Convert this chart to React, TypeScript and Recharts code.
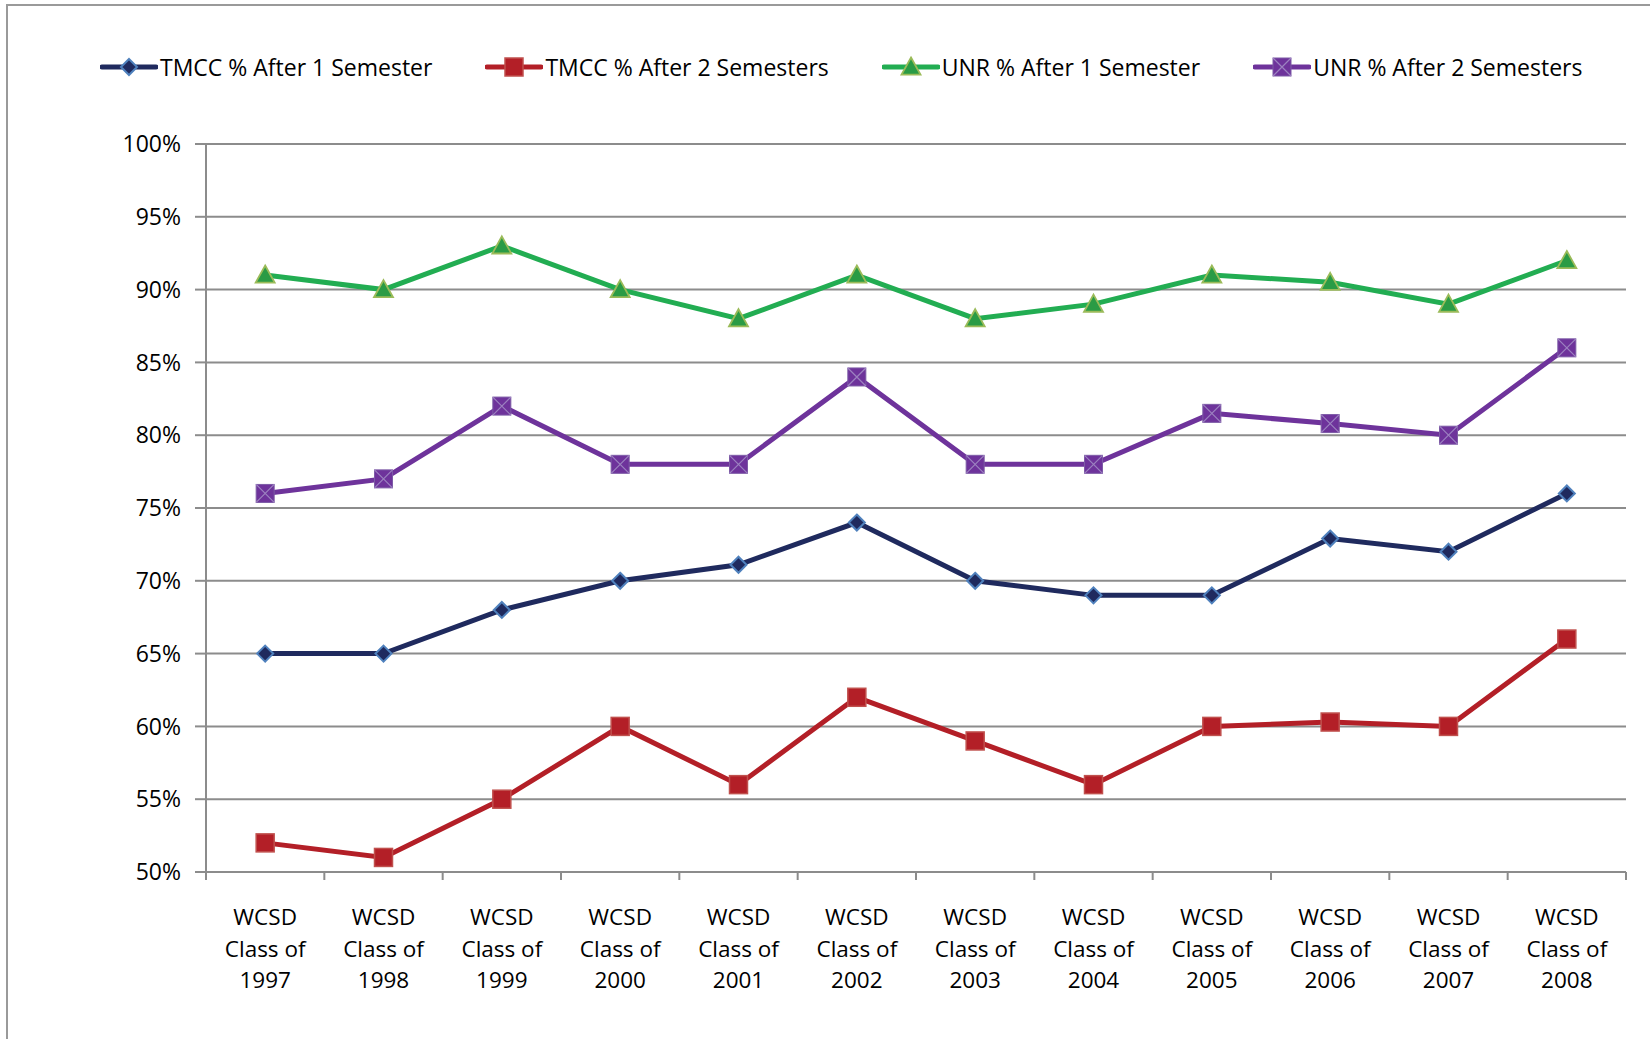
import React from 'react';
import { LineChart, Line, XAxis, YAxis, CartesianGrid } from 'recharts';

const categories = ['1997','1998','1999','2000','2001','2002','2003','2004','2005','2006','2007','2008'];
const tmcc1 = [65, 65, 68, 70, 71.1, 74, 70, 69, 69, 72.9, 72, 76];
const tmcc2 = [52, 51, 55, 60, 56, 62, 59, 56, 60, 60.3, 60, 66];
const unr1 = [91, 90, 93, 90, 88, 91, 88, 89, 91, 90.5, 89, 92];
const unr2 = [76, 77, 82, 78, 78, 84, 78, 78, 81.5, 80.8, 80, 86];
const yTicks = [50, 55, 60, 65, 70, 75, 80, 85, 90, 95, 100];

const data = categories.map((c, i) => ({
  name: c,
  tmcc1: tmcc1[i],
  tmcc2: tmcc2[i],
  unr1: unr1[i],
  unr2: unr2[i],
}));

const W = 1650;
const H = 1039;
const MARGIN = { top: 144, right: 24, left: 126, bottom: 47 };
const Y_AXIS_W = 80;
const X_AXIS_H = 120;
const PLOT_W = W - MARGIN.left - MARGIN.right - Y_AXIS_W;
const BW = PLOT_W / categories.length;
const FONT = '"Open Sans", "Noto Sans", sans-serif';
const GRID = '#8c8c8c';

const series = [
  { key: 'tmcc1', name: 'TMCC % After 1 Semester', color: '#1F2A5E', marker: 'diamond' },
  { key: 'tmcc2', name: 'TMCC % After 2 Semesters', color: '#B31F27', marker: 'square' },
  { key: 'unr1', name: 'UNR % After 1 Semester', color: '#22AD52', marker: 'triangle' },
  { key: 'unr2', name: 'UNR % After 2 Semesters', color: '#6E339B', marker: 'xsquare' },
];

const Marker = ({ kind, cx, cy }: { kind: string; cx: number; cy: number }) => {
  if (cx == null || cy == null) return null;
  if (kind === 'diamond') {
    const r = 8;
    return (
      <path d={`M${cx},${cy - r}L${cx + r},${cy}L${cx},${cy + r}L${cx - r},${cy}Z`}
        fill="#1F2A5E" stroke="#4F81BD" strokeWidth={2} />
    );
  }
  if (kind === 'square') {
    const r = 9;
    return <rect x={cx - r} y={cy - r} width={2 * r} height={2 * r} fill="#B31F27" stroke="#C0504D" strokeWidth={1.5} />;
  }
  if (kind === 'triangle') {
    const r = 9.5;
    return (
      <path d={`M${cx},${cy - r}L${cx + r},${cy + r * 0.8}L${cx - r},${cy + r * 0.8}Z`}
        fill="#2A9B45" stroke="#9BBB59" strokeWidth={1.8} />
    );
  }
  const r = 9;
  return (
    <g>
      <rect x={cx - r} y={cy - r} width={2 * r} height={2 * r} fill="#6E339B" stroke="#7D5BA6" strokeWidth={1} />
      <path d={`M${cx - r},${cy - r}L${cx + r},${cy + r}M${cx + r},${cy - r}L${cx - r},${cy + r}`} stroke="#9C82C0" strokeWidth={1.2} />
    </g>
  );
};

const XTick = (props: any) => {
  const { x, y, payload, index } = props;
  const isLast = index === categories.length - 1;
  const lines = ['WCSD', 'Class of', payload.value];
  return (
    <g>
      <line x1={x - BW / 2} x2={x - BW / 2} y1={y} y2={y + 8} stroke={GRID} strokeWidth={2} />
      {isLast && <line x1={x + BW / 2} x2={x + BW / 2} y1={y} y2={y + 8} stroke={GRID} strokeWidth={2} />}
      {lines.map((t, i) => (
        <text key={i} x={x} y={y + 53 + i * 31.5} textAnchor="middle" fontFamily={FONT} fontSize={22.5} fill="#000">
          {t}
        </text>
      ))}
    </g>
  );
};

const LegendBox = () => (
  <div style={{ position: 'absolute', left: 100, top: 55, display: 'flex', alignItems: 'center', fontFamily: FONT, fontSize: 23, color: '#000', lineHeight: '24px' }}>
    {series.map((s, i) => (
      <div key={s.key} style={{ display: 'flex', alignItems: 'center', marginRight: i < 3 ? 53 : 0 }}>
        <svg width={58} height={24} style={{ marginRight: 2 }}>
          <line x1={2} x2={56} y1={12} y2={12} stroke={s.color} strokeWidth={5} strokeLinecap="round" />
          <Marker kind={s.marker} cx={29} cy={12} />
        </svg>
        <span style={{ whiteSpace: 'nowrap' }}>{s.name}</span>
      </div>
    ))}
  </div>
);

export default function App() {
  return (
    <div style={{ position: 'absolute', left: 0, top: 0, width: W, height: H, background: '#fff', overflow: 'hidden' }}>
      <div style={{ position: 'absolute', left: 6, top: 4, width: W + 20, height: H + 20, border: '2px solid #9a9a9a' }} />
      <LegendBox />
      <div style={{ position: 'absolute', left: 0, top: 0 }}>
        <LineChart width={W} height={H} data={data} margin={MARGIN}>
          <CartesianGrid vertical={false} stroke={GRID} strokeWidth={2} />
          <XAxis
            dataKey="name"
            height={X_AXIS_H}
            padding={{ left: BW / 2, right: BW / 2 }}
            axisLine={{ stroke: GRID, strokeWidth: 2 }}
            tickLine={false}
            tickSize={0}
            tickMargin={0}
            interval={0}
            tick={<XTick />}
          />
          <YAxis
            width={Y_AXIS_W}
            domain={[50, 100]}
            ticks={yTicks}
            interval={0}
            tickFormatter={(v: number) => `${v}%`}
            axisLine={{ stroke: GRID, strokeWidth: 2 }}
            tickLine={{ stroke: GRID, strokeWidth: 2 }}
            tickSize={11}
            tickMargin={14}
            tick={{ fontFamily: FONT, fontSize: 23, fill: '#000' }}
          />
          {series.map((s) => (
            <Line
              key={s.key}
              type="linear"
              dataKey={s.key}
              name={s.name}
              stroke={s.color}
              strokeWidth={5}
              isAnimationActive={false}
              dot={(p: any) => <Marker key={`${s.key}-${p.index}`} kind={s.marker} cx={p.cx} cy={p.cy} />}
              activeDot={false}
            />
          ))}
        </LineChart>
      </div>
    </div>
  );
}
